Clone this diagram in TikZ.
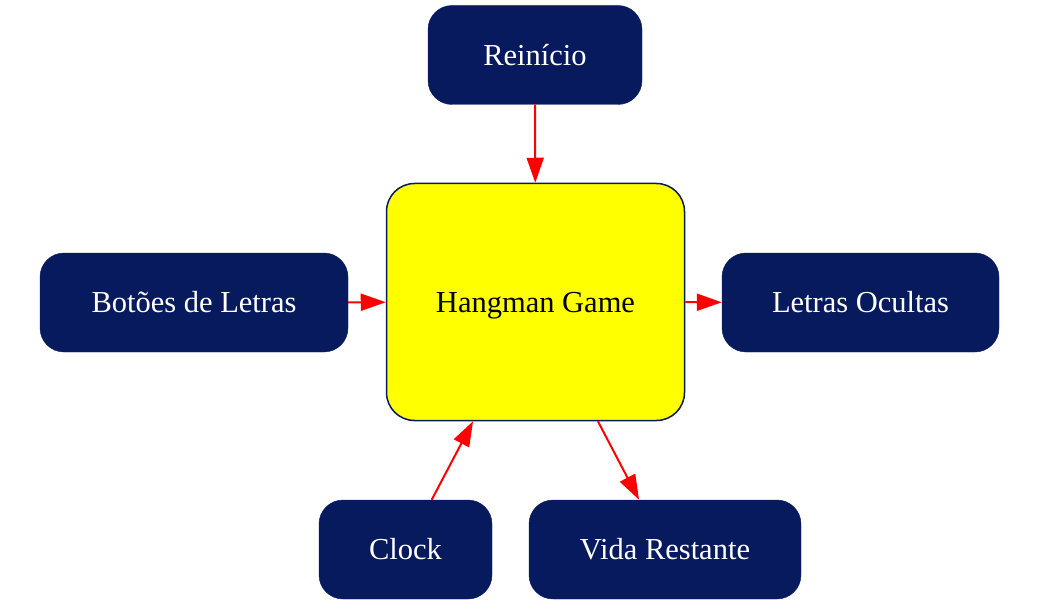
\documentclass[tikz,border=0pt]{standalone}
\usepackage{fontspec}
\setmainfont{Liberation Serif}
\usetikzlibrary{arrows.meta}
\definecolor{navy}{HTML}{081A5E}
\definecolor{yel}{RGB}{255,255,0}
\definecolor{edgered}{RGB}{255,0,0}
\begin{document}
\begin{tikzpicture}[x=1pt,y=-1pt,
  lbl/.style={font=\fontsize{30.5}{36}\selectfont},
  box/.style={lbl, draw=navy, fill=navy, text=white, rounded corners=24pt, inner sep=0pt, minimum height=99pt},
  main/.style={lbl, draw=navy, line width=1.5pt, fill=yel, text=black, rounded corners=28pt, inner sep=0pt, text depth=0pt},
  edge/.style={draw=edgered, line width=2pt, -{Triangle[length=25pt,width=17pt]}}]
\useasboundingbox (0,0) rectangle (1042,607);
\node[main, minimum width=298pt, minimum height=237pt] (hm) at (535.5,302) {Hangman Game};
\node[box, minimum width=214pt] (rein) at (535,55) {Reinício};
\node[box, minimum width=308pt] (bot) at (194,302.5) {Botões de Letras};
\node[box, minimum width=277pt] (let) at (860.5,302.5) {Letras Ocultas};
\node[box, minimum width=173pt] (clock) at (405.5,549.5) {Clock};
\node[box, minimum width=272pt] (vida) at (665,549.5) {Vida Restante};
\draw[edge] (rein) -- (hm);
\draw[edge] (bot) -- (hm);
\draw[edge] (hm) -- (let);
\draw[edge] (clock) -- (hm);
\draw[edge] (hm) -- (vida);
\end{tikzpicture}
\end{document}
